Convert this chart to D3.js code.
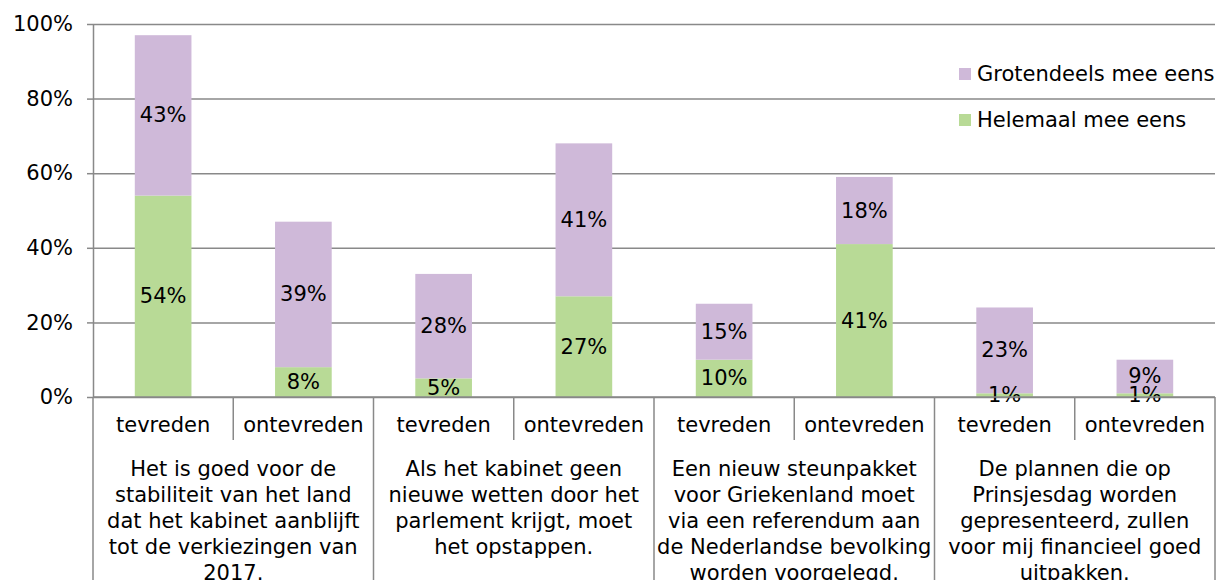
<!DOCTYPE html>
<html>
<head>
<meta charset="utf-8">
<script src="https://cdn.jsdelivr.net/npm/d3@7"></script>
<style>
  html, body { margin: 0; padding: 0; background: #fff; }
  svg { display: block; font-family: "DejaVu Sans", Verdana, sans-serif; }
</style>
</head>
<body>
<div id="chart"></div>
<script>
// groups of the category axis, each with two sub-categories
const groups = [
    ["Het is goed voor de", "stabiliteit van het land", "dat het kabinet aanblijft", "tot de verkiezingen van", "2017."],
    ["Als het kabinet geen", "nieuwe wetten door het", "parlement krijgt, moet", "het opstappen."],
    ["Een nieuw steunpakket", "voor Griekenland moet", "via een referendum aan", "de Nederlandse bevolking", "worden voorgelegd."],
    ["De plannen die op", "Prinsjesdag worden", "gepresenteerd, zullen", "voor mij financieel goed", "uitpakken."]
]
const subCategories = ["tevreden", "ontevreden"]

// series values, in percent, one per bar (group x sub-category)
const helemaal = [54, 8, 5, 27, 10, 41, 1, 1]
const grotendeels = [43, 39, 28, 41, 15, 18, 23, 9]

const seriesNames = ["Helemaal mee eens", "Grotendeels mee eens"]
const yTicks = [0, 20, 40, 60, 80, 100]

const width = 1225
const height = 580
const marginLeft = 93
const marginRight = 10
const marginTop = 24
const plotBottom = 397
const fontSize = 21
const barRatio = 0.404          // bar width as part of one band
const colors = {"Helemaal mee eens": "#b8da96", "Grotendeels mee eens": "#cfb9d9"}
const lineColor = "#898989"

// flatten into one row per bar
const rows = []
groups.forEach((g, gi) => {
    subCategories.forEach((s, si) => {
        const i = gi * subCategories.length + si
        rows.push({key: i, group: gi, sub: s,
            "Helemaal mee eens": helemaal[i], "Grotendeels mee eens": grotendeels[i]})
    })
})

const series = d3.stack().keys(seriesNames)(rows)

const xScale = d3.scaleBand(d3.range(rows.length), [marginLeft, width - marginRight]).padding(0)
const groupScale = d3.scaleBand(d3.range(groups.length), [marginLeft, width - marginRight]).padding(0)
const yScale = d3.scaleLinear([0, 100], [plotBottom, marginTop])

const svg = d3.select("#chart")
    .append("svg")
    .attr("width", width)
    .attr("height", height)
    .attr("viewBox", [0, 0, width, height])

// y axis with gridlines
svg.append("g")
    .attr("transform", `translate(${marginLeft},0)`)
    .call(d3.axisLeft(yScale).tickValues(yTicks).tickFormat(d => d + "%").tickSize(6).tickPadding(14))
    .call(g => g.select(".domain").attr("stroke", lineColor).attr("stroke-width", 1.5).attr("d", `M0.5,${marginTop}V${plotBottom}`))
    .call(g => g.selectAll(".tick line").attr("stroke", lineColor).attr("stroke-width", 1.5))
    .call(g => g.selectAll(".tick line").clone()
        .attr("x1", 0)
        .attr("x2", width - marginLeft - marginRight))
    .call(g => g.selectAll(".tick text")
        .attr("fill", "#000")
        .attr("font-size", fontSize)
        .attr("font-family", "DejaVu Sans, Verdana, sans-serif"))

// bars
svg.append("g")
    .selectAll("g")
    .data(series)
    .join("g")
    .attr("fill", s => colors[s.key])
    .selectAll("rect")
    .data(s => s)
    .join("rect")
    .attr("x", d => xScale(d.data.key) + xScale.bandwidth() * (1 - barRatio) / 2)
    .attr("width", xScale.bandwidth() * barRatio)
    .attr("y", d => yScale(d[1]))
    .attr("height", d => yScale(d[0]) - yScale(d[1]))

// data labels
svg.append("g")
    .selectAll("g")
    .data(series)
    .join("g")
    .selectAll("text")
    .data(s => s)
    .join("text")
    .attr("x", d => xScale(d.data.key) + xScale.bandwidth() / 2)
    .attr("y", d => yScale((d[0] + d[1]) / 2))
    .attr("text-anchor", "middle")
    .attr("dominant-baseline", "central")
    .attr("font-size", fontSize)
    .attr("fill", "#000")
    .text(d => (d[1] - d[0]) + "%")

// category axis: baseline, dividers, labels
const catAxis = svg.append("g")
catAxis.append("line")
    .attr("x1", marginLeft).attr("x2", width - marginRight)
    .attr("y1", plotBottom).attr("y2", plotBottom)
    .attr("stroke", lineColor).attr("stroke-width", 1.5)

// group dividers reach to the bottom
catAxis.selectAll(".gdiv")
    .data(d3.range(groups.length + 1))
    .join("line")
    .attr("class", "gdiv")
    .attr("x1", i => i < groups.length ? groupScale(i) : width - marginRight)
    .attr("x2", i => i < groups.length ? groupScale(i) : width - marginRight)
    .attr("y1", plotBottom).attr("y2", height)
    .attr("stroke", lineColor).attr("stroke-width", 1.5)

// inner dividers between sub-categories
catAxis.selectAll(".sdiv")
    .data(rows.filter(r => r.sub !== subCategories[0]))
    .join("line")
    .attr("class", "sdiv")
    .attr("x1", r => xScale(r.key))
    .attr("x2", r => xScale(r.key))
    .attr("y1", plotBottom).attr("y2", plotBottom + 43)
    .attr("stroke", lineColor).attr("stroke-width", 1.5)

catAxis.selectAll(".sub")
    .data(rows)
    .join("text")
    .attr("class", "sub")
    .attr("x", r => xScale(r.key) + xScale.bandwidth() / 2)
    .attr("y", 432)
    .attr("text-anchor", "middle")
    .attr("font-size", fontSize)
    .attr("fill", "#000")
    .text(r => r.sub)

catAxis.selectAll(".grp")
    .data(groups)
    .join("text")
    .attr("class", "grp")
    .attr("text-anchor", "middle")
    .attr("font-size", fontSize)
    .attr("fill", "#000")
    .each(function(lines, gi) {
        d3.select(this).selectAll("tspan")
            .data(lines)
            .join("tspan")
            .attr("x", groupScale(gi) + groupScale.bandwidth() / 2)
            .attr("y", (d, li) => 476 + li * 25.9)
            .text(d => d)
    })

// legend
const legendItems = seriesNames.slice().reverse()
const legend = svg.append("g")
    .selectAll("g")
    .data(legendItems)
    .join("g")
    .attr("transform", (d, i) => `translate(959,${68 + i * 46})`)
legend.append("rect")
    .attr("width", 12).attr("height", 12)
    .attr("fill", d => colors[d])
legend.append("text")
    .attr("x", 18).attr("y", 6)
    .attr("dominant-baseline", "central")
    .attr("font-size", fontSize)
    .attr("fill", "#000")
    .text(d => d)
</script>
</body>
</html>
